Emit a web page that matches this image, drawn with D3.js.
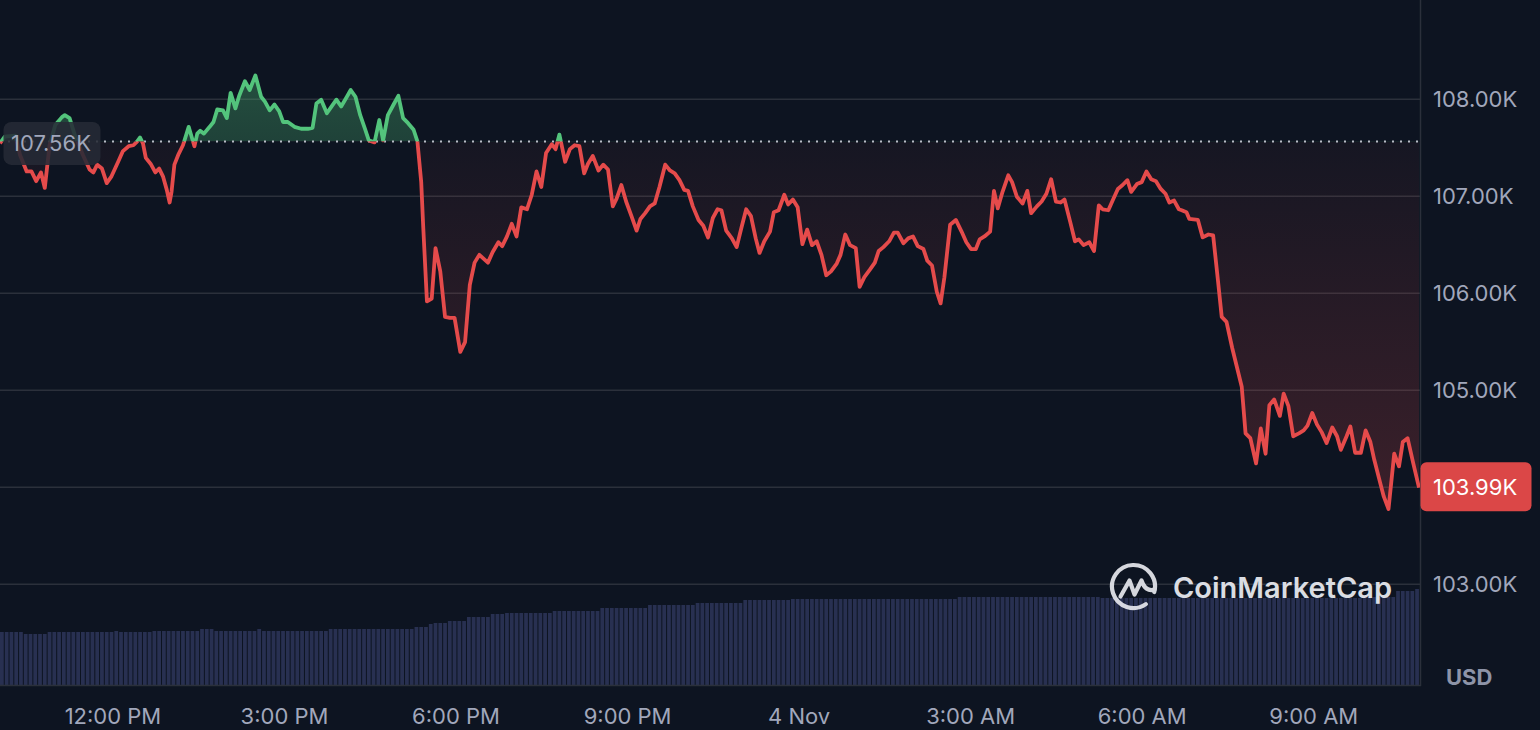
<!DOCTYPE html>
<html>
<head>
<meta charset="utf-8">
<script src="https://cdn.jsdelivr.net/npm/d3@7"></script>
<style>
  html, body { margin: 0; padding: 0; background: #0d1421; }
  svg { display: block; font-family: Inter, "Noto Sans", sans-serif; }
</style>
</head>
<body>
<svg id="chart" width="1540" height="730"></svg>
<script>
// ---------------- DATA ----------------
// minutes after 3 Nov 2025 10:02 local time
const minutes = [
  0,5,16,21,28,33,38,43,47,52,
  58,65,68,73,79,87,94,98,102,107,
  112,117,124,129,135,140,144,147,150,153,
  158,163,167,171,175,178,180,183,187,192,
  198,201,204,207,210,214,220,224,228,234,
  238,242,247,251,257,262,268,274,278,283,
  288,293,297,302,309,316,323,328,332,337,
  343,348,353,358,364,368,373,378,383,387,
  393,398,402,407,413,418,423,428,434,438,
  442,444,448,453,457,462,467,472,477,483,
  488,493,498,503,512,517,523,527,532,537,
  542,547,553,558,563,568,573,579,583,587,
  593,598,603,608,613,617,622,628,633,638,
  643,647,652,657,663,668,672,677,682,687,
  692,698,703,708,713,718,722,727,733,738,
  743,748,753,757,762,768,773,778,783,788,
  793,797,802,808,812,817,823,827,832,837,
  842,847,852,857,862,867,872,878,882,887,
  892,898,902,907,913,918,922,927,933,938,
  942,948,953,958,963,969,973,978,983,987,
  991,997,1003,1009,1014,1019,1024,1028,1033,1039,
  1043,1047,1052,1058,1062,1067,1073,1078,1082,1088,
  1093,1098,1103,1108,1113,1117,1123,1128,1132,1137,
  1143,1148,1153,1157,1163,1168,1173,1178,1183,1187,
  1193,1198,1203,1208,1213,1218,1223,1227,1232,1237,
  1240,1245,1248,1257,1262,1268,1273,1278,1282,1287,
  1293,1297,1303,1307,1312,1318,1323,1328,1332,1337,
  1343,1347,1352,1357,1363,1368,1372,1377,1382,1387,
  1392,1398,1403,1407,1413,1417,1422,1428,1433,1438,
  1442,1448,1452,1457,1463,1468,1472,1477,1483,1489
];
// BTC price in thousands of USD
const prices = [
  107.54,107.61,107.62,107.42,107.25,107.25,107.15,107.24,107.08,107.52,
  107.73,107.81,107.83,107.80,107.61,107.42,107.27,107.24,107.32,107.28,
  107.13,107.20,107.35,107.46,107.51,107.52,107.56,107.60,107.54,107.39,
  107.33,107.24,107.28,107.20,107.06,106.93,107.04,107.32,107.42,107.52,
  107.71,107.61,107.51,107.64,107.67,107.64,107.71,107.76,107.89,107.88,
  107.80,108.06,107.90,108.03,108.18,108.09,108.24,108.02,107.97,107.88,
  107.94,107.87,107.76,107.76,107.71,107.69,107.69,107.70,107.95,107.99,
  107.85,107.92,107.99,107.92,108.02,108.09,108.02,107.83,107.69,107.57,
  107.55,107.78,107.57,107.83,107.94,108.03,107.80,107.75,107.68,107.56,
  107.14,106.70,105.91,105.94,106.46,106.22,105.75,105.74,105.74,105.39,
  105.49,106.08,106.31,106.39,106.31,106.42,106.52,106.48,106.58,106.71,
  106.58,106.88,106.86,107.01,107.25,107.09,107.44,107.53,107.48,107.63,
  107.35,107.48,107.52,107.51,107.23,107.33,107.41,107.26,107.32,107.27,
  106.89,106.97,107.11,106.94,106.78,106.64,106.76,106.82,106.89,106.92,
  107.09,107.32,107.26,107.23,107.16,107.06,107.05,106.89,106.75,106.69,
  106.57,106.77,106.86,106.85,106.64,106.56,106.47,106.67,106.86,106.79,
  106.56,106.41,106.53,106.63,106.83,106.85,107.01,106.91,106.96,106.88,
  106.50,106.65,106.49,106.53,106.39,106.18,106.22,106.30,106.39,106.60,
  106.49,106.46,106.06,106.16,106.24,106.31,106.43,106.47,106.53,106.62,
  106.62,106.51,106.56,106.58,106.48,106.45,106.33,106.28,106.01,105.89,
  106.16,106.70,106.75,106.63,106.52,106.45,106.45,106.55,106.58,106.63,
  107.05,106.87,107.04,107.21,107.14,106.99,106.92,107.05,106.82,106.89,
  106.94,107.02,107.17,106.94,106.93,106.96,106.73,106.53,106.55,106.49,
  106.52,106.43,106.90,106.86,106.85,106.96,107.07,107.11,107.16,107.04,
  107.12,107.14,107.25,107.17,107.15,107.07,107.02,106.93,106.95,106.86,
  106.85,106.83,106.76,106.75,106.57,106.60,106.59,106.13,105.75,105.70,
  105.43,105.27,105.03,104.55,104.50,104.24,104.60,104.34,104.84,104.90,
  104.73,104.96,104.83,104.52,104.55,104.58,104.63,104.76,104.64,104.56,
  104.45,104.61,104.52,104.38,104.52,104.62,104.35,104.35,104.58,104.46,
  104.28,104.05,103.90,103.77,104.34,104.21,104.46,104.50,104.24,103.99
];
// 24h volume (billions USD), one bar every 5 minutes from the start
const volumes = [
  53,53,53,53,53,51,51,51,51,51,
  53,53,53,53,53,53,53,53,53,53,
  53,53,53,53,54,53,53,53,53,53,
  53,53,54,54,54,54,54,54,54,54,
  54,54,56,56,56,54,54,54,54,54,
  54,54,54,54,56,54,54,54,54,54,
  54,54,54,54,54,54,54,54,54,56,
  56,56,56,56,56,56,56,56,56,56,
  56,56,56,56,56,56,56,58,58,58,
  61,62,62,62,64,64,64,64,68,68,
  68,68,68,71,71,71,72,72,72,72,
  72,72,72,72,72,72,74,74,74,74,
  74,74,74,74,74,74,77,77,77,77,
  77,77,77,77,77,77,80,80,80,80,
  80,80,80,80,80,80,82,82,82,82,
  82,82,82,82,82,82,85,85,85,85,
  85,85,85,85,85,85,86,86,86,86,
  86,86,86,86,86,86,86,86,86,86,
  86,86,86,86,86,86,86,86,86,86,
  86,86,86,86,86,86,86,86,86,86,
  86,88,88,88,88,88,88,88,88,88,
  88,88,88,88,88,88,88,88,88,88,
  88,88,88,88,88,88,88,88,88,88,
  88,87,87,87,87,87,87,87,87,87,
  87,87,87,87,87,87,87,87,87,87,
  87,87,87,87,87,87,87,87,87,87,
  87,87,87,87,87,87,87,87,87,87,
  87,87,87,87,87,87,87,87,87,87,
  87,87,87,87,87,87,88,88,88,88,
  88,88,88,94,94,94,94,96
];
const openPrice = 107.56;
const lastPrice = 103.99;
const priceTicks = [103, 104, 105, 106, 107, 108];
const timeTicks = [
  "2025-11-03T12:00", "2025-11-03T15:00", "2025-11-03T18:00", "2025-11-03T21:00",
  "2025-11-04T00:00", "2025-11-04T03:00", "2025-11-04T06:00", "2025-11-04T09:00"
];
const timeTickLabels = ["12:00 PM", "3:00 PM", "6:00 PM", "9:00 PM", "4 Nov", "3:00 AM", "6:00 AM", "9:00 AM"];
const startTime = new Date("2025-11-03T10:02:00");

// ---------------- SETUP ----------------
const W = 1540, H = 730;
const plotRight = 1420;
const volBottom = 685;
const RED = "#e54b4b", GREEN = "#53c47c";
const textCol = "#a1a7bb", gridCol = "#2b303b";
const FS = 22;

const toDate = m => new Date(startTime.getTime() + m * 60000);
const data = minutes.map((m, i) => ({ t: toDate(m), p: prices[i] }));

const svg = d3.select("#chart");
svg.append("rect").attr("width", W).attr("height", H).attr("fill", "#0d1421");

const x = d3.scaleTime()
  .domain([startTime, toDate(minutes[minutes.length - 1])])
  .range([0, plotRight - 1]);
const y = d3.scaleLinear().domain([103, 108]).range([583.7, 98.7]);
const yv = d3.scaleLinear().domain([0, 100]).range([volBottom, 585]);

const defs = svg.append("defs");
const baseY = y(openPrice);
defs.append("clipPath").attr("id", "clipUp")
  .append("rect").attr("x", -10).attr("y", 0).attr("width", plotRight + 10).attr("height", baseY);
defs.append("clipPath").attr("id", "clipDown")
  .append("rect").attr("x", -10).attr("y", baseY).attr("width", plotRight + 10).attr("height", volBottom - baseY);

const gRed = defs.append("linearGradient").attr("id", "gradRed")
  .attr("gradientUnits", "userSpaceOnUse").attr("x1", 0).attr("x2", 0).attr("y1", baseY).attr("y2", y(103.7));
gRed.append("stop").attr("offset", 0).attr("stop-color", RED).attr("stop-opacity", 0.04);
gRed.append("stop").attr("offset", 1).attr("stop-color", RED).attr("stop-opacity", 0.22);
const gGreen = defs.append("linearGradient").attr("id", "gradGreen")
  .attr("gradientUnits", "userSpaceOnUse").attr("x1", 0).attr("x2", 0).attr("y1", baseY).attr("y2", y(108.3));
gGreen.append("stop").attr("offset", 0).attr("stop-color", GREEN).attr("stop-opacity", 0.26);
gGreen.append("stop").attr("offset", 1).attr("stop-color", GREEN).attr("stop-opacity", 0.34);

// ---------------- GRID / AXES ----------------
const yAxis = d3.axisRight(y).tickValues(priceTicks).tickSizeInner(-plotRight).tickSizeOuter(0)
  .tickPadding(13).tickFormat(d => d.toFixed(2) + "K");
const gy = svg.append("g").attr("transform", `translate(${plotRight},0)`).call(yAxis);
gy.select(".domain").remove();
gy.selectAll("line").attr("stroke", gridCol).attr("stroke-width", 1.5);
gy.selectAll("text").attr("fill", textCol).attr("font-size", FS).attr("font-family", "Inter").attr("dy", "0.35em");

// volume bars
const step = x(toDate(5)) - x(toDate(0));
svg.append("g").selectAll("rect").data(volumes).join("rect")
  .attr("x", (d, i) => x(toDate(i * 5)))
  .attr("y", d => yv(d))
  .attr("width", Math.max(1, step - 1))
  .attr("height", d => volBottom - yv(d))
  .attr("fill", "#283051");

// frame lines
svg.append("line").attr("x1", plotRight + 0.5).attr("x2", plotRight + 0.5).attr("y1", 0).attr("y2", volBottom + 1)
  .attr("stroke", gridCol).attr("stroke-width", 1.5);
svg.append("line").attr("x1", 0).attr("x2", plotRight + 1).attr("y1", volBottom + 0.5).attr("y2", volBottom + 0.5)
  .attr("stroke", gridCol).attr("stroke-width", 1.5);

// x axis
const xAxis = d3.axisBottom(x).tickValues(timeTicks.map(s => new Date(s)))
  .tickSize(0).tickPadding(23).tickFormat((d, i) => timeTickLabels[i]);
const gx = svg.append("g").attr("transform", `translate(0,${volBottom})`).call(xAxis);
gx.select(".domain").remove();
gx.selectAll("text").attr("fill", textCol).attr("font-size", FS).attr("font-family", "Inter");

// ---------------- PRICE AREA & LINE ----------------
const area = d3.area().x(d => x(d.t)).y0(baseY).y1(d => y(d.p));
const line = d3.line().x(d => x(d.t)).y(d => y(d.p));

svg.append("path").datum(data).attr("d", area).attr("fill", "url(#gradGreen)").attr("clip-path", "url(#clipUp)");
svg.append("path").datum(data).attr("d", area).attr("fill", "url(#gradRed)").attr("clip-path", "url(#clipDown)");

// baseline (open price) dotted
svg.append("line").attr("x1", 0).attr("x2", plotRight).attr("y1", baseY).attr("y2", baseY)
  .attr("stroke", "#b8bcc6").attr("stroke-width", 2).attr("stroke-dasharray", "2,6");

svg.append("path").datum(data).attr("d", line).attr("fill", "none").attr("stroke", GREEN)
  .attr("stroke-width", 3.8).attr("stroke-linejoin", "round").attr("clip-path", "url(#clipUp)");
svg.append("path").datum(data).attr("d", line).attr("fill", "none").attr("stroke", RED)
  .attr("stroke-width", 3.8).attr("stroke-linejoin", "round").attr("clip-path", "url(#clipDown)");

// ---------------- LABELS ----------------
// open price label (left)
svg.append("rect").attr("x", 3.5).attr("y", baseY - 19.5).attr("width", 97).attr("height", 43).attr("rx", 8)
  .attr("fill", "#252a35").attr("fill-opacity", 0.88);
svg.append("text").attr("x", 11).attr("y", baseY + 2).attr("dy", "0.35em")
  .attr("fill", textCol).attr("font-size", FS).text(openPrice.toFixed(2) + "K");

// last price label (right)
const lastY = y(lastPrice);
svg.append("rect").attr("x", plotRight + 0.5).attr("y", lastY - 25.5).attr("width", 111).attr("height", 49).attr("rx", 6)
  .attr("fill", "#db4747");
svg.append("text").attr("x", plotRight + 13).attr("y", lastY).attr("dy", "0.35em")
  .attr("fill", "#ffffff").attr("font-size", FS).text(lastPrice.toFixed(2) + "K");

// USD
svg.append("text").attr("x", 1446).attr("y", 685).attr("fill", "#8d94a8").attr("font-size", FS)
  .attr("font-weight", 700).text("USD");

// ---------------- WATERMARK ----------------
const wm = svg.append("g").attr("fill", "none").attr("stroke", "#e6e8ee").attr("stroke-width", 4.2)
  .attr("stroke-linecap", "round").attr("stroke-linejoin", "round").attr("opacity", 0.92);
const cx = 1133.5, cy = 586.5, r = 21.5;
const pt = a => [cx + r * Math.cos(a * Math.PI / 180), cy + r * Math.sin(a * Math.PI / 180)];
const a0 = pt(55), a1 = pt(15);
wm.append("path").attr("d", `M${a0[0]},${a0[1]} A${r},${r} 0 1 1 ${a1[0]},${a1[1]}`);
wm.append("path").attr("d",
  `M${cx - 13},${cy + 10} L${cx - 4},${cy - 6} L${cx + 1},${cy + 8} L${cx + 8},${cy - 6} Q${cx + 12},${cy + 6} ${cx + 21},${cy + 3}`);
svg.append("text").attr("x", 1173).attr("y", 598).attr("fill", "#e6e8ee").attr("opacity", 0.95)
  .attr("font-size", 29).attr("font-weight", 600).text("CoinMarketCap");
</script>
</body>
</html>
